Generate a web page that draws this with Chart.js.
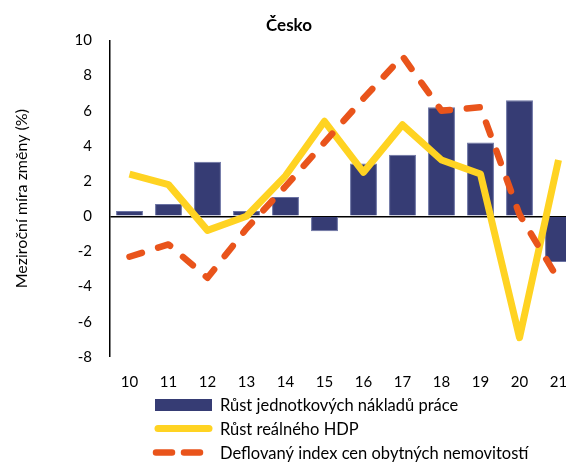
<!DOCTYPE html>
<html>
<head>
<meta charset="utf-8">
<script src="https://cdn.jsdelivr.net/npm/chart.js@4/dist/chart.umd.min.js"></script>
<style>
  html, body { margin: 0; padding: 0; background: #fff; overflow: hidden; width: 566px; height: 462px; }
  #wrap { position: absolute; left: 0; top: 0; width: 584px; height: 462px; }
</style>
</head>
<body>
<div id="wrap"><canvas id="c" width="584" height="462"></canvas></div>
<script>
const categories = ['10','11','12','13','14','15','16','17','18','19','20','21'];
const unitLabourCost = [0.3, 0.7, 3.1, 0.3, 1.1, -0.85, 3.0, 3.5, 6.2, 4.2, 6.6, -2.6];
const realGdp = [2.4, 1.8, -0.8, 0.0, 2.3, 5.4, 2.5, 5.2, 3.2, 2.4, -6.9, 3.2];
const housePrices = [-2.3, -1.6, -3.5, -0.7, 1.7, 4.2, 6.7, 9.1, 6.0, 6.2, 0.1, -3.6];
const seriesNames = ['Růst jednotkových nákladů práce', 'Růst reálného HDP', 'Deflovaný index cen obytných nemovitostí'];
const yTicks = [-8, -6, -4, -2, 0, 2, 4, 6, 8, 10];

const NAVY = '#363C74', YELLOW = '#FFD322', ORANGE = '#E9541B';
const FONT = 'Lato, "Open Sans", sans-serif';

const legendPlugin = {
  id: 'stackLegend',
  afterDraw(chart) {
    const ctx = chart.ctx;
    const x0 = chart.chartArea.left + 45, w = 57, tx = x0 + 65;
    const rows = [405, 428.5, 452.5];
    ctx.save();
    ctx.font = '16.5px ' + FONT;
    ctx.textBaseline = 'middle';
    ctx.textAlign = 'left';
    ctx.fillStyle = NAVY;
    ctx.fillRect(x0, rows[0] - 6, w, 12);
    ctx.strokeStyle = YELLOW; ctx.lineWidth = 7; ctx.lineCap = 'round';
    ctx.beginPath(); ctx.moveTo(x0 + 3, rows[1]); ctx.lineTo(x0 + w - 3, rows[1]); ctx.stroke();
    ctx.strokeStyle = ORANGE; ctx.lineWidth = 6.5; ctx.lineCap = 'round';
    ctx.setLineDash([16, 12]);
    ctx.beginPath(); ctx.moveTo(x0 + 1, rows[2]); ctx.lineTo(x0 + w, rows[2]); ctx.stroke();
    ctx.setLineDash([]);
    ctx.fillStyle = '#000';
    seriesNames.forEach((n, i) => ctx.fillText(n, tx, rows[i] + 1));
    ctx.restore();
  }
};

new Chart(document.getElementById('c'), {
  type: 'bar',
  data: {
    labels: categories,
    datasets: [
      {
        type: 'line', label: seriesNames[2], data: housePrices,
        borderColor: ORANGE, borderWidth: 6.5, borderDash: [13, 17],
        borderCapStyle: 'round', borderJoinStyle: 'round',
        pointRadius: 0, tension: 0, fill: false, order: 1
      },
      {
        type: 'line', label: seriesNames[1], data: realGdp,
        borderColor: YELLOW, borderWidth: 7, borderCapStyle: 'butt', borderJoinStyle: 'round',
        pointRadius: 0, tension: 0, fill: false, order: 2
      },
      {
        type: 'bar', label: seriesNames[0], data: unitLabourCost,
        backgroundColor: NAVY, borderColor: '#6a72a3', borderWidth: 1,
        barPercentage: 0.69, categoryPercentage: 1.0, order: 3
      }
    ]
  },
  options: {
    responsive: false,
    animation: false,
    devicePixelRatio: 1,
    layout: { padding: { left: 0, right: 6, top: 0, bottom: 55 } },
    plugins: {
      legend: { display: false },
      tooltip: { enabled: false },
      title: {
        display: true, text: 'Česko', color: '#000',
        font: { family: FONT, size: 17, weight: 'bold', lineHeight: 1.2 },
        padding: { top: 15, bottom: 5 }
      }
    },
    scales: {
      x: {
        grid: { display: false, drawTicks: false },
        border: { display: false },
        ticks: { color: '#000', font: { family: FONT, size: 15 }, padding: 16, maxRotation: 0, autoSkip: false }
      },
      y: {
        min: -8, max: 10,
        afterBuildTicks(scale) { scale.ticks = yTicks.map(v => ({ value: v })); },
        afterFit(scale) { scale.width = 110; },
        grid: {
          drawTicks: false,
          color: c => (c.tick && c.tick.value === 0) ? '#000' : 'rgba(0,0,0,0)',
          lineWidth: c => (c.tick && c.tick.value === 0) ? 1.5 : 0
        },
        border: { display: true, color: '#000', width: 1.5 },
        ticks: { color: '#000', font: { family: FONT, size: 15 }, padding: 18 },
        title: {
          display: true, text: 'Meziroční míra změny (%)', color: '#000',
          font: { family: FONT, size: 16 }, padding: { top: 12.5, bottom: 0 }
        }
      }
    }
  },
  plugins: [legendPlugin]
});
</script>
</body>
</html>
